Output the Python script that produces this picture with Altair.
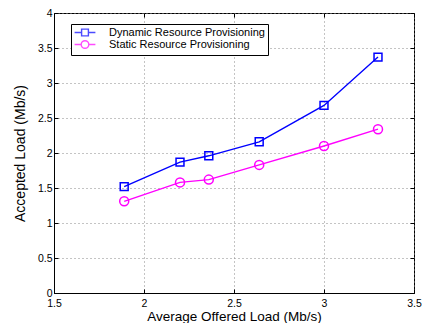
import altair as alt
import pandas as pd

offered_load = [1.89, 2.2, 2.36, 2.64, 3.0, 3.3]
dynamic_accepted = [1.52, 1.87, 1.96, 2.16, 2.68, 3.37]
static_accepted = [1.31, 1.58, 1.62, 1.83, 2.10, 2.34]
series_names = ["Dynamic Resource Provisioning", "Static Resource Provisioning"]
series_colors = ["#0000ff", "#ff00ff"]
x_ticks = [1.5, 2, 2.5, 3, 3.5]
y_ticks = [0, 0.5, 1, 1.5, 2, 2.5, 3, 3.5, 4]

rows = []
for name, vals in zip(series_names, [dynamic_accepted, static_accepted]):
    for x, y in zip(offered_load, vals):
        rows.append({"load": x, "accepted": y, "series": name})
df = pd.DataFrame(rows)

W, H = 360, 280
FONT = "Liberation Sans"

xs = alt.Scale(domain=[1.5, 3.5], nice=False, zero=False)
ys = alt.Scale(domain=[0, 4], nice=False, zero=False)
color_scale = alt.Scale(domain=series_names, range=series_colors)

marker_paths = ["M-0.88,-0.88H0.88V0.88H-0.88Z",
                "M1,0A1,1 0 1,1 -1,0A1,1 0 1,1 1,0Z"]
legend_paths = ["M-2.6,0H-0.85M0.85,0H2.6M-0.85,-0.85H0.85V0.85H-0.85Z",
                "M-2.6,0H-0.95M0.95,0H2.6M0.95,0A0.95,0.95 0 1,1 -0.95,0A0.95,0.95 0 1,1 0.95,0Z"]

main_x_axis = alt.Axis(values=x_ticks, format="~g", title="Average Offered Load (Mb/s)",
                       grid=True, gridDash=[1, 3], gridColor="#888", tickSize=0,
                       labelPadding=5.5, titlePadding=0.5, titleFontSize=13.5,
                       labelFlush=False, labelOverlap=False)
main_y_axis = alt.Axis(values=y_ticks, format="~g", title="Accepted Load (Mb/s)",
                       grid=True, gridDash=[1, 3], gridColor="#888", tickSize=0,
                       labelPadding=2, titlePadding=10, labelFlush=False, labelOverlap=False)


def tick_axis(orient, offset):
    return alt.Axis(orient=orient, offset=offset,
                    values=x_ticks if orient in ("top", "bottom") else y_ticks,
                    labels=False, domain=False, grid=False, tickSize=4, title=None)


lines = alt.Chart(df).mark_line(strokeWidth=1.4).encode(
    x=alt.X("load:Q", scale=xs, axis=main_x_axis),
    y=alt.Y("accepted:Q", scale=ys, axis=main_y_axis),
    color=alt.Color("series:N", scale=color_scale, legend=None),
    detail="series:N",
)

points = alt.Chart(df).mark_point(filled=False, size=81, strokeWidth=1.5, opacity=1).encode(
    x=alt.X("load:Q", scale=xs, axis=tick_axis("top", -H)),
    y=alt.Y("accepted:Q", scale=ys, axis=tick_axis("right", -W)),
    color=alt.Color("series:N", scale=color_scale, legend=None),
    shape=alt.Shape("series:N", scale=alt.Scale(domain=series_names, range=marker_paths), legend=None),
)

leg = alt.Legend(title=None, orient="none", legendX=17, legendY=11, strokeColor="black",
                 fillColor="white", padding=3, labelFont=FONT, labelFontSize=11,
                 labelColor="black", symbolSize=64, symbolStrokeWidth=1.4,
                 symbolOffset=5.5, labelOffset=18.5, rowPadding=-3)

legend_layer = alt.Chart(df).transform_filter("false").mark_point(filled=False, strokeWidth=1.4).encode(
    x=alt.X("load:Q", scale=xs, axis=tick_axis("bottom", -H)),
    y=alt.Y("accepted:Q", scale=ys, axis=tick_axis("left", -W)),
    color=alt.Color("series:N", scale=color_scale, legend=leg),
    shape=alt.Shape("series:N", scale=alt.Scale(domain=series_names, range=legend_paths), legend=leg),
)

chart = alt.layer(lines, points, legend_layer).resolve_scale(
    shape="independent", color="independent"
).resolve_axis(
    x="independent", y="independent"
).properties(
    width=W, height=H,
    padding={"left": 46, "top": 5, "right": 8, "bottom": 30},
    autosize=alt.AutoSizeParams(type="none"),
).configure_axis(
    labelFont=FONT, labelFontSize=10.5, labelColor="black",
    titleFont=FONT, titleFontSize=14, titleFontWeight="normal", titleColor="black",
    domainColor="black", tickColor="black", domainWidth=1,
).configure_view(stroke="black", strokeWidth=1)

chart.save("out.html", embed_options={"renderer": "svg", "actions": False})
